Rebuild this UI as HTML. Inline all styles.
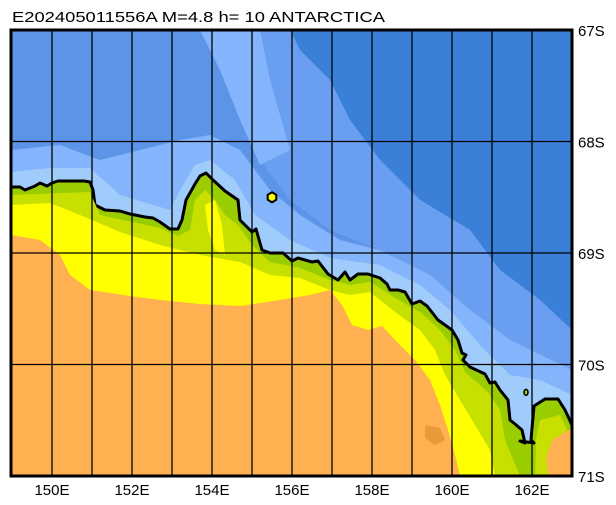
<!DOCTYPE html>
<html><head><meta charset="utf-8"><style>
html,body{margin:0;padding:0;background:#fff;width:616px;height:505px;overflow:hidden}
text{font-family:"Liberation Sans",sans-serif;fill:#000}
</style></head><body>
<svg id="map" width="616" height="505" viewBox="0 0 616 505">
<text x="12" y="22" font-size="15" textLength="373" lengthAdjust="spacingAndGlyphs">E202405011556A  M=4.8  h=  10  ANTARCTICA</text>
<defs><clipPath id="cl"><rect x="11" y="30" width="561" height="446"/></clipPath></defs>
<g clip-path="url(#cl)" id="plot">
<rect x="11" y="30" width="561" height="446" fill="#5c94e8"/>
<polygon fill="#3a80d8" points="290,30 572,30 572,330 540,300 500,270 470,230 420,200 380,160 350,120 330,80 300,50"/>
<polygon fill="#6a9ef0" points="230,30 290,30 300,50 330,80 350,120 380,160 420,200 470,230 500,270 540,300 572,330 572,400 520,370 480,330 430,290 380,250 330,230 290,200 260,160 250,110 240,60"/>
<polygon fill="#84b4fc" points="11,150 60,145 100,160 140,150 180,140 210,135 240,150 270,190 300,215 340,240 380,250 430,275 470,310 510,340 572,370 572,476 11,476"/>
<polygon fill="#84b4fc" points="200,30 260,30 270,80 290,150 260,165 240,120 220,70"/>
<polygon fill="#a0ccfc" points="11,172 50,168 90,168 120,195 170,210 180,190 195,165 210,160 235,180 255,215 290,240 330,258 380,265 420,285 450,310 480,345 510,375 540,380 572,395 572,476 11,476"/>
<polygon fill="#9acd00" stroke="#000" stroke-width="3" stroke-linejoin="round" points="11,187 20,187 25,190 35,186 40,183 47,186 52,183 58,181 70,181 84,181 90,182 93,190 95,205 105,210 120,211 130,214 145,217 153,218 160,222 170,229 178,229 182,220 186,200 195,184 200,176 206,173 213,180 225,191 238,200 240,220 252,232 256,229 262,250 270,253 283,253 292,261 298,258 312,262 318,261 328,274 338,280 345,272 350,280 358,274 368,274 380,278 387,284 390,290 398,290 405,292 412,304 420,301 427,306 438,320 452,330 458,340 462,353 466,355 463,360 470,367 485,374 490,383 495,382 500,390 508,400 510,420 515,424 522,430 525,443 520,441 534,443 531,440 534,406 545,399 558,399 565,410 572,425 572,476 11,476"/>
<polygon fill="#c8e000" points="11,195 90,192 100,215 160,228 178,236 190,230 195,200 205,190 215,200 225,215 238,225 252,245 270,262 300,268 330,280 350,285 370,282 395,298 420,312 440,330 455,350 465,372 488,392 500,410 505,440 520,476 11,476"/>
<polygon fill="#c8e000" points="540,420 560,415 572,440 572,476 535,476 536,440"/>
<polygon fill="#ffff00" points="11,205 50,203 80,215 120,232 160,245 200,255 240,262 270,275 300,278 330,290 350,295 370,292 395,312 420,330 435,350 445,375 460,400 475,425 490,450 495,476 11,476"/>
<polygon fill="#ffff00" points="205,205 215,200 222,225 225,255 215,250 208,230"/>
<polygon fill="#ffb050" points="11,235 40,240 60,255 70,275 90,290 130,296 160,300 200,304 240,306 280,300 310,295 330,290 342,305 352,325 368,330 382,326 395,340 415,360 430,380 440,405 448,430 455,455 460,476 11,476"/>
<polygon fill="#ffb050" points="552,440 572,428 572,476 548,476 546,458"/>
<polygon fill="#e89a38" points="425,425 440,428 445,440 435,445 425,438"/>
<g id="grid"></g>
<g id="marks"></g>
</g>
<rect x="11" y="30" width="561" height="446" fill="none" stroke="#000" stroke-width="3"/>
<g id="labels"></g>
</svg>
<script>
const lonTicks = [150,152,154,156,158,160,162];
const lonTickLabels = ["150E","152E","154E","156E","158E","160E","162E"];
const latTicks = [67,68,69,70,71];
const latTickLabels = ["67S","68S","69S","70S","71S"];
const gridLons = [150,151,152,153,154,155,156,157,158,159,160,161,162];
const epicenterLon = [155.5];
const epicenterLat = [68.5];
const islandLon = [161.85];
const islandLat = [70.25];
const NS="http://www.w3.org/2000/svg";
function xS(lon){return 12+(lon-149)*40;}
function yS(lat){return 30+(lat-67)*111.5;}
const grid=document.getElementById('grid'), lab=document.getElementById('labels'), marks=document.getElementById('marks');
function mk(t,a,p){const e=document.createElementNS(NS,t);for(const k in a)e.setAttribute(k,a[k]);p.appendChild(e);return e;}
gridLons.forEach(l=>{
  const e=mk('line',{x1:xS(l),x2:xS(l),y1:30,y2:476,stroke:'#000','stroke-width':1.3},grid);
  
  
});
latTicks.forEach((l,i)=>{
  const e=mk('line',{x1:11,x2:572,y1:yS(l),y2:yS(l),stroke:'#000','stroke-width':1.3},grid);
  
  
  const t=mk('text',{x:578,y:yS(l)+6,'font-size':15},lab);
  t.textContent=latTickLabels[i];
  
  
});
lonTicks.forEach((l,i)=>{
  const t=mk('text',{x:xS(l),y:495,'font-size':15,'text-anchor':'middle'},lab);
  t.textContent=lonTickLabels[i];
  
  
});
epicenterLon.forEach((l,i)=>{
  const cx=xS(l), cy=yS(epicenterLat[i]);
  const pts=[];
  for(let k=0;k<6;k++){const a=Math.PI/3*k+Math.PI/6;pts.push((cx+5*Math.cos(a)).toFixed(1)+','+(cy+5*Math.sin(a)).toFixed(1));}
  const c=mk('polygon',{points:pts.join(' '),fill:'#ffff00',stroke:'#000','stroke-width':2},marks);
  
  
});
islandLon.forEach((l,i)=>{
  const c=mk('ellipse',{cx:xS(l),cy:yS(islandLat[i]),rx:2,ry:3,fill:'#9acd00',stroke:'#000','stroke-width':1.5},marks);
  
  
});
</script>
</body></html>
